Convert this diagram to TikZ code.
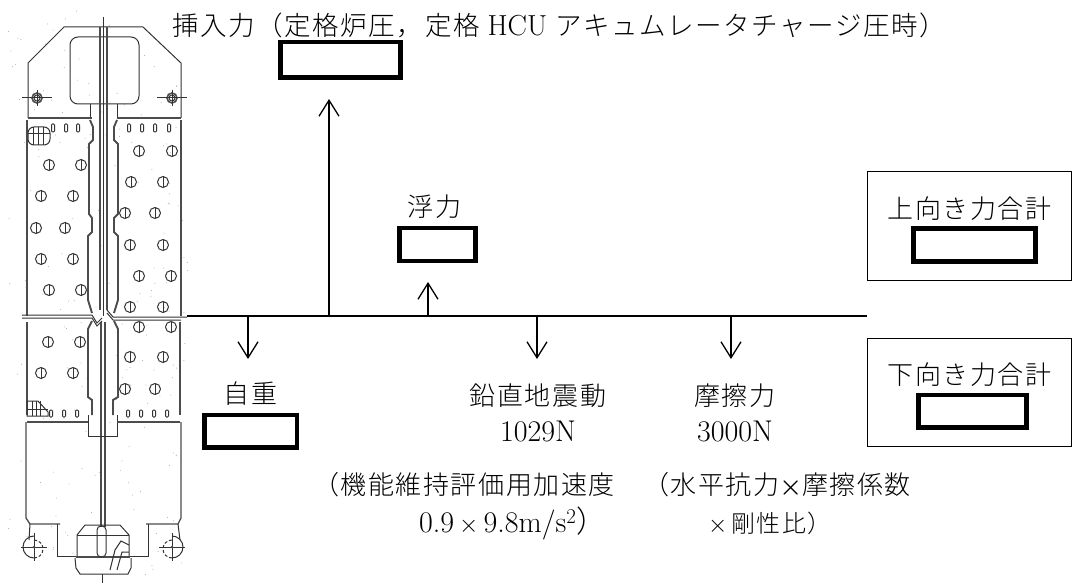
\documentclass[tikz,border=0pt]{standalone}
\usepackage{fontspec}
\usepackage{tikz}
\usetikzlibrary{arrows.meta, positioning}
\newfontfamily\jpwide{Noto Sans CJK JP Light}[LetterSpace=6]
\tikzstyle{force} = [line width=1.3pt,-{Straight Barb[length=16pt,width=20pt,line width=1.3pt]}]
\tikzstyle{valuebox} = [draw=black, line width=4.5pt, inner sep=0pt, minimum height=32.5pt]
\tikzstyle{sumbox} = [draw=black, line width=1pt, inner sep=0pt, minimum width=204pt, minimum height=108pt]
\tikzstyle{txt} = [inner sep=0pt, font=\fontsize{26pt}{30pt}\selectfont]
\tikzstyle{toptxt} = [inner sep=0pt, font=\fontsize{26.5pt}{30pt}\selectfont]
\tikzstyle{smalltxt} = [inner sep=0pt, font=\fontsize{24pt}{28pt}\selectfont]
\tikzstyle{numtxt} = [inner sep=0pt, font=\fontsize{30pt}{34pt}\selectfont]
\tikzstyle{scan} = [draw=black!80, line width=1pt]
\tikzstyle{seam} = [draw=black!70, line width=1.9pt]
\newcommand{\pinmark}[1]{%
  \draw[scan] #1 circle (3);
  \draw[black!70, line width=1.6pt] #1 circle (5);
  \draw[scan] #1 ++(-15,0) -- +(30,0);
  \draw[scan] #1 ++(0,-8) -- +(0,16);
}
\newcommand{\rollermark}[2]{%
  \draw[scan] #1 ++(0,11) arc[start angle=90,delta angle=#2 180,radius=11];
  \draw[scan,densely dashed] #1 ++(0,11) arc[start angle=90,delta angle=-#2 180,radius=9];
  \draw[scan] #1 ++(-13,0) -- +(26,0);
  \draw[scan] #1 ++(0,-14) -- +(0,28);
  \fill[black!70] #1 circle (1.5);
}
\begin{document}
\begin{tikzpicture}[x=1pt,y=-1pt]
        \useasboundingbox (0,0) rectangle (1072,583);

        % Scan specks
        \pgfmathsetseed{4711}
        \foreach \k in {1,...,170} {
            \pgfmathsetmacro{\px}{8+180*rnd}
            \pgfmathsetmacro{\py}{10+565*rnd}
            \fill[black!35] (\px,\py) circle (0.5);
        }

        % Head of the blade
        \draw[scan] (28,118) -- (28,63) -- (64,27) -- (143,27) -- (181,63) -- (181,118);
        \draw[scan, rounded corners=8] (70,37) rectangle (139,104);
        \draw[scan] (90,104) -- (90,118) (117,104) -- (117,118);
        \draw[seam] (28,118) -- (92,118) (117,118) -- (181,118);
        \pinmark{(37,98)}
        \pinmark{(172,98)}

        % Tie rod
        \draw[scan] (103,17) -- (103,316);
        \draw[seam] (100,27) -- (100,310) (107,27) -- (107,310);
        \draw[seam] (101,322) -- (101,527) (105,322) -- (105,527);
        \draw[scan] (102,574) -- (102,583);

        % Wing outlines
        \draw[seam, line width=1.3pt] (27,120) -- (27,316) (27,322) -- (27,415);
        \draw[seam, line width=1.3pt] (181,120) -- (181,316) (180,322) -- (180,415);
        \draw[seam] (90,120) -- (93,127) -- (93,140) -- (89,144) -- (89,214) -- (92,218) -- (92,232) -- (88,236) -- (88,300) -- (92,313);
        \draw[seam] (117,120) -- (114,127) -- (114,140) -- (118,144) -- (118,214) -- (114,218) -- (114,232) -- (118,236) -- (118,300) -- (114,313);
        \draw[seam] (92,321) -- (88,329) -- (88,397) -- (92,400) -- (92,415);
        \draw[seam] (114,321) -- (118,329) -- (118,397) -- (113,400) -- (113,415);
        \draw[scan] (88,415) -- (88,436) -- (117,436) -- (117,415);

        % Break band
        \draw[scan] (22,315) -- (92,315) -- (97,323) -- (102,318) (107,310) -- (113,317) -- (187,317);
        \draw[scan] (22,318) -- (92,318) -- (97,326) -- (102,321) (107,313) -- (113,320) -- (181,320);

        % Holes
        \foreach \hx/\hy in {49/165,81/165,41/196,73/196,36/228,65/228,41/259,73/259,49/290,81/290,
                             139/151,172/151,131/182,163/182,125/213,155/213,130/245,163/245,139/276,171/276,
                             130/307,163/307,48/342,80/342,41/373,73/373,139/327,171/327,130/357,163/357,125/389,155/389} {
            \draw[scan] (\hx,\hy) circle (5.5);
            \draw[scan, line width=0.7pt] (\hx,\hy-5.5) -- (\hx,\hy+5.5);
        }
        \foreach \sx in {53,66,78,129,142,155,169} {
            \draw[scan, rounded corners=1] (\sx-1.5,124) rectangle (\sx+1.5,132);
        }
        \foreach \sx in {51,64,77,128,141,154,167} {
            \draw[scan, rounded corners=1] (\sx-1.5,410) rectangle (\sx+1.5,417);
        }

        % Hatching
        \draw[scan, rounded corners=6] (28,127) -- (50,127) -- (50,145) -- (28,145) -- cycle;
        \foreach \hx in {33,38,43} { \draw[scan] (\hx,127) -- (\hx,145); }
        \draw[scan] (28,134) -- (50,134);
        \draw[scan] (27,401) -- (38,401) -- (48,412) -- (48,416) -- (27,416) -- cycle;
        \foreach \hx in {32,36,40} { \draw[scan] (\hx,401) -- (\hx,416); }
        \draw[scan] (27,409) -- (48,409);

        % Lower sheath
        \draw[seam] (27,422) -- (88,422) (117,422) -- (180,422);
        \draw[seam, line width=1.3pt] (26,422) -- (26,518) -- (30,524) -- (60,524);
        \draw[seam, line width=1.3pt] (181,422) -- (181,518) -- (178,524) -- (146,524);
        \draw[scan] (57,524) -- (57,556) -- (77,556);
        \draw[scan] (148,524) -- (148,556) -- (129,556);
        \draw[scan] (30,524) -- (29,540) (178,524) -- (180,540);
        \rollermark{(34,547)}{}
        \rollermark{(172,547)}{-}

        % Velocity limiter
        \draw[scan] (77,556) -- (77,535) -- (85,525) -- (120,525) -- (129,535) -- (129,556);
        \draw[scan] (77,535) -- (129,535);
        \draw[seam] (76,557) -- (130,557);
        \draw[scan] (75,558) -- (76,568) -- (80,574) -- (128,574) -- (131,568) -- (131,558);
        \draw[scan, rounded corners=4] (97,526) rectangle (106,557);
        \draw[scan] (110,570) -- (115,550) -- (121,541) -- (129,545) (117,570) -- (122,552) -- (129,552);

        % Force bar
        \coordinate (bar_left) at (187,316);
        \coordinate (bar_right) at (867,316);
        \draw[line width=1.3pt] (bar_left) -- (bar_right);

        % Forces acting upward
        \coordinate (insert_foot) at (329,316);
        \coordinate (insert_tip) at (329,99);
        \draw[force] (insert_foot) -- (insert_tip);
        \coordinate (buoy_foot) at (428,316);
        \coordinate (buoy_tip) at (428,282);
        \draw[force] (buoy_foot) -- (buoy_tip);

        % Forces acting downward
        \coordinate (weight_foot) at (248,316);
        \coordinate (weight_tip) at (248,359);
        \draw[force] (weight_foot) -- (weight_tip);
        \coordinate (seismic_foot) at (537,316);
        \coordinate (seismic_tip) at (537,359);
        \draw[force] (seismic_foot) -- (seismic_tip);
        \coordinate (friction_foot) at (731,316);
        \coordinate (friction_tip) at (731,359);
        \draw[force] (friction_foot) -- (friction_tip);

        % Insertion force
        \node (insert_label) [toptxt, anchor=west] at (172,25) {\jpwide 挿入力（定格炉圧，定格\hspace{8pt}{\normalfont\fontsize{29pt}{30pt}\selectfont HCU}\hspace{8pt}アキュムレータチャージ圧時）};
        \node (insert_box) [valuebox, minimum width=120pt, minimum height=35.5pt] at (340.5,60) {};

        % Buoyancy
        \node (buoy_box) [valuebox, minimum width=76pt] at (437.5,244.5) {};
        \node (buoy_label) [txt, above=7pt of buoy_box, xshift=-3pt] {\jpwide 浮力};

        % Dead weight
        \node (weight_box) [valuebox, minimum width=92.5pt] at (250.5,431) {};
        \node (weight_label) [txt, above=7pt of weight_box] {\jpwide 自重};

        % Seismic load
        \node (seismic_label) [txt] at (538,396) {\jpwide 鉛直地震動};
        \node (seismic_value) [numtxt, below=13pt of seismic_label] {1029N};
        \node (seismic_note) [txt, anchor=west] at (313,485) {\jpwide （機能維持評価用加速度};
        \node (seismic_note2) [numtxt, anchor=west] at (419,523) {0.9\,$\times$\,9.8m/s\textsuperscript{2}\jpwide ）};

        % Friction
        \node (friction_label) [txt] at (735,396) {\jpwide 摩擦力};
        \node (friction_value) [numtxt, below=13pt of friction_label] {3000N};
        \node (friction_note) [txt, anchor=west] at (643,485) {\jpwide （水平抗力{\normalfont\bfseries ×}摩擦係数};
        \node (friction_note2) [smalltxt, anchor=west] at (708,523) {\jpwide $\times$\,剛性比）};

        % Totals
        \node (up_frame) [sumbox] at (969,226) {};
        \node (up_label) [txt] at (969.5,209) {\jpwide 上向き力合計};
        \node (up_box) [valuebox, minimum width=122pt] at (974.5,245) {};
        \node (down_frame) [sumbox] at (969,392) {};
        \node (down_label) [txt] at (969.5,375) {\jpwide 下向き力合計};
        \node (down_box) [valuebox, minimum width=108pt] at (972.5,411) {};

    \end{tikzpicture}
\end{document}
